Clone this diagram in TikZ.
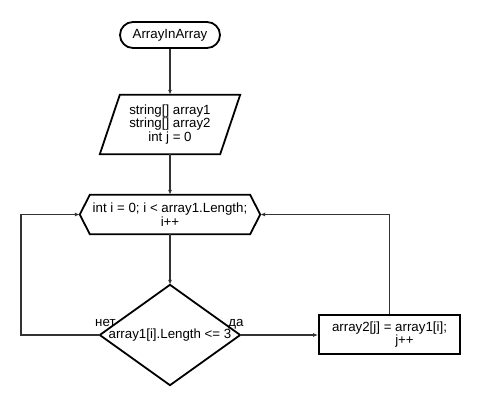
\documentclass[tikz,border=0pt]{standalone}
\usepackage{fontspec}
\setmainfont{Liberation Sans}
\usetikzlibrary{arrows.meta,calc}
\begin{document}
\begin{tikzpicture}[x=1pt,y=-1pt,
  shapeline/.style={draw=black,line width=1.8pt,line join=miter},
  conn/.style={draw=black!80,line width=1.3pt},
  arr/.style={conn,-{Latex[length=5pt,width=4pt]}},
  txt/.style={font=\fontsize{13.3}{12.3}\selectfont,align=center,inner sep=0pt},
  lbl/.style={font=\fontsize{13.3}{12.3}\selectfont,inner sep=0pt}]
\useasboundingbox (0,0) rectangle (480,405);
% terminal
\node[shapeline,txt,rounded corners=13pt,minimum width=100pt,minimum height=26pt] (start) at (170,35) {ArrayInArray};
% input parallelogram
\node[txt,minimum width=120pt,minimum height=59pt] (in) at (170,124.5) {string[] array1\\string[] array2\\int j = 0};
\draw[shapeline] ([xshift=10pt]in.north west) -- ([xshift=10pt]in.north east) -- ([xshift=-10pt]in.south east) -- ([xshift=-10pt]in.south west) -- cycle;
% loop hexagon
\node[txt,minimum width=160pt,minimum height=39pt] (loop) at (170,214.5) {int i = 0; i < array1.Length;\\i++};
\coordinate (loopL) at ([xshift=-10pt]loop.west);
\coordinate (loopR) at ([xshift=10pt]loop.east);
\draw[shapeline] (loopL) -- (loop.north west) -- (loop.north east) -- (loopR) -- (loop.south east) -- (loop.south west) -- cycle;
% decision
\node[txt,minimum width=140pt,minimum height=100pt] (dec) at (170,335) {\makebox[0pt]{array1[i].Length <= 3}};
\draw[shapeline] (dec.north) -- (dec.east) -- (dec.south) -- (dec.west) -- cycle;
% process
\node[shapeline,txt,minimum width=141pt,minimum height=39pt] (proc) at (389.5,334.5) {array2[j] = array1[i];\\\hspace*{30pt}j++};
% connectors
\draw[arr] (start.south) -- (in.north);
\draw[arr] (in.south) -- (loop.north);
\draw[arr] (loop.south) -- (dec.north);
\draw[arr] (dec.east) -- (proc.west |- dec.east);
\draw[arr] (dec.west) -- (21,335) |- (loopL);
\draw[arr] (proc.north) |- (loopR);
% labels
\node[lbl,anchor=base east] (no) at ($(dec.west)+(16,-9)$) {нет};
\node[lbl,anchor=base west] (yes) at ($(dec.east)+(-12,-9)$) {да};
\end{tikzpicture}
\end{document}
